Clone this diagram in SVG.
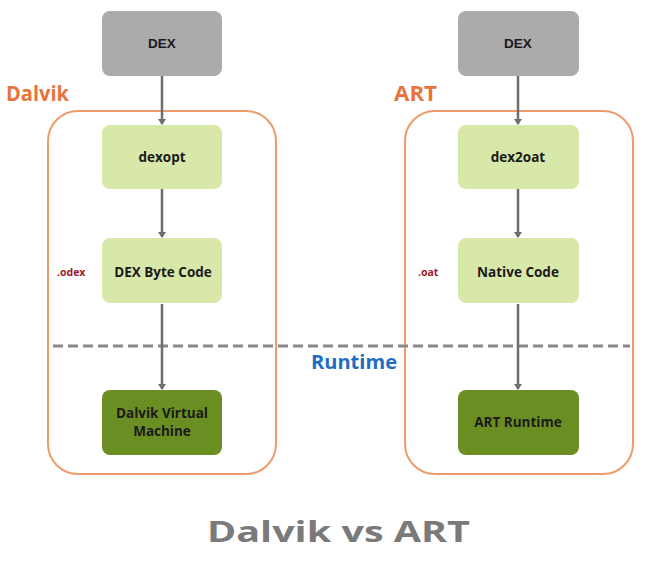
<svg xmlns="http://www.w3.org/2000/svg" width="660" height="561" viewBox="0 0 660 561">
<style>
.dex{fill:#ABABAB}
.lg{fill:#D8E8A9}
.dg{fill:#6B8E23}
.cont{fill:none;stroke:#EE9A6A;stroke-width:2}
.t{font-family:"Open Sans","Liberation Sans",sans-serif;font-weight:bold;font-size:13.5px;fill:#1a1a1a;text-anchor:middle}
.t2{font-family:"Liberation Sans",Arial,sans-serif;font-weight:bold;font-size:13.5px;fill:#1a1a1a;text-anchor:middle}
.sys{font-family:"Open Sans","Liberation Sans",sans-serif;font-weight:bold;font-size:21px;fill:#E8743B}
.ext{font-family:"Open Sans","Liberation Sans",sans-serif;font-weight:bold;font-size:10.5px;fill:#A0182A}
.arr{stroke:#6E6E6E;stroke-width:2.5;fill:none;marker-end:url(#ah)}
</style>
<defs>
<marker id="ah" markerWidth="8" markerHeight="8" refX="5" refY="4" orient="auto" markerUnits="userSpaceOnUse">
<path d="M0,0 L6,4 L0,8 Z" fill="#6E6E6E"/>
</marker>
</defs>
<rect width="660" height="561" fill="#ffffff"/>

<g id="dalvik-container">
<rect class="cont" x="48" y="111" width="228" height="363" rx="30"/>
<text class="sys" x="6" y="101" textLength="63" lengthAdjust="spacingAndGlyphs">Dalvik</text>
</g>
<g id="art-container">
<rect class="cont" x="405" y="111" width="228" height="363" rx="30"/>
<text class="sys" x="394" y="101" textLength="43" lengthAdjust="spacingAndGlyphs">ART</text>
</g>

<g id="runtime-divider">
<line x1="53" y1="346" x2="630" y2="346" stroke="#888888" stroke-width="3" stroke-dasharray="10,5"/>
<text x="311" y="369" font-family="'Open Sans','Liberation Sans',sans-serif" font-weight="bold" font-size="19" fill="#1E6FC0" textLength="86" lengthAdjust="spacingAndGlyphs">Runtime</text>
</g>

<g id="connectors">
<line class="arr" x1="162" y1="76" x2="162" y2="124"/>
<line class="arr" x1="162" y1="189" x2="162" y2="237"/>
<line class="arr" x1="162" y1="304" x2="162" y2="389"/>
<line class="arr" x1="518" y1="76" x2="518" y2="124"/>
<line class="arr" x1="518" y1="189" x2="518" y2="237"/>
<line class="arr" x1="518" y1="304" x2="518" y2="389"/>
</g>

<g id="dex-left">
<rect class="dex" x="102" y="11" width="120" height="65" rx="8"/>
<text class="t2" x="162" y="48">DEX</text>
</g>
<g id="dexopt">
<rect class="lg" x="102" y="125" width="120" height="64" rx="8"/>
<text class="t" x="162" y="162">dexopt</text>
</g>
<g id="dex-byte-code">
<rect class="lg" x="102" y="238" width="120" height="65" rx="8"/>
<text class="t" x="163" y="277">DEX Byte Code</text>
<text class="ext" x="57" y="276">.odex</text>
</g>
<g id="dalvik-vm">
<rect class="dg" x="102" y="390" width="120" height="65" rx="8"/>
<text class="t" x="162" y="418">Dalvik Virtual</text>
<text class="t" x="162" y="436">Machine</text>
</g>

<g id="dex-right">
<rect class="dex" x="458" y="11" width="121" height="65" rx="8"/>
<text class="t2" x="518" y="48">DEX</text>
</g>
<g id="dex2oat">
<rect class="lg" x="458" y="125" width="121" height="64" rx="8"/>
<text class="t" x="518" y="162">dex2oat</text>
</g>
<g id="native-code">
<rect class="lg" x="458" y="238" width="121" height="65" rx="8"/>
<text class="t" x="518" y="277">Native Code</text>
<text class="ext" x="418" y="276">.oat</text>
</g>
<g id="art-runtime">
<rect class="dg" x="458" y="390" width="121" height="65" rx="8"/>
<text class="t" x="518" y="427">ART Runtime</text>
</g>

<text x="207" y="542" font-family="'Open Sans','Liberation Sans',sans-serif" font-weight="bold" font-size="28" fill="#7A7A7A" textLength="263" lengthAdjust="spacingAndGlyphs">Dalvik vs ART</text>
</svg>
